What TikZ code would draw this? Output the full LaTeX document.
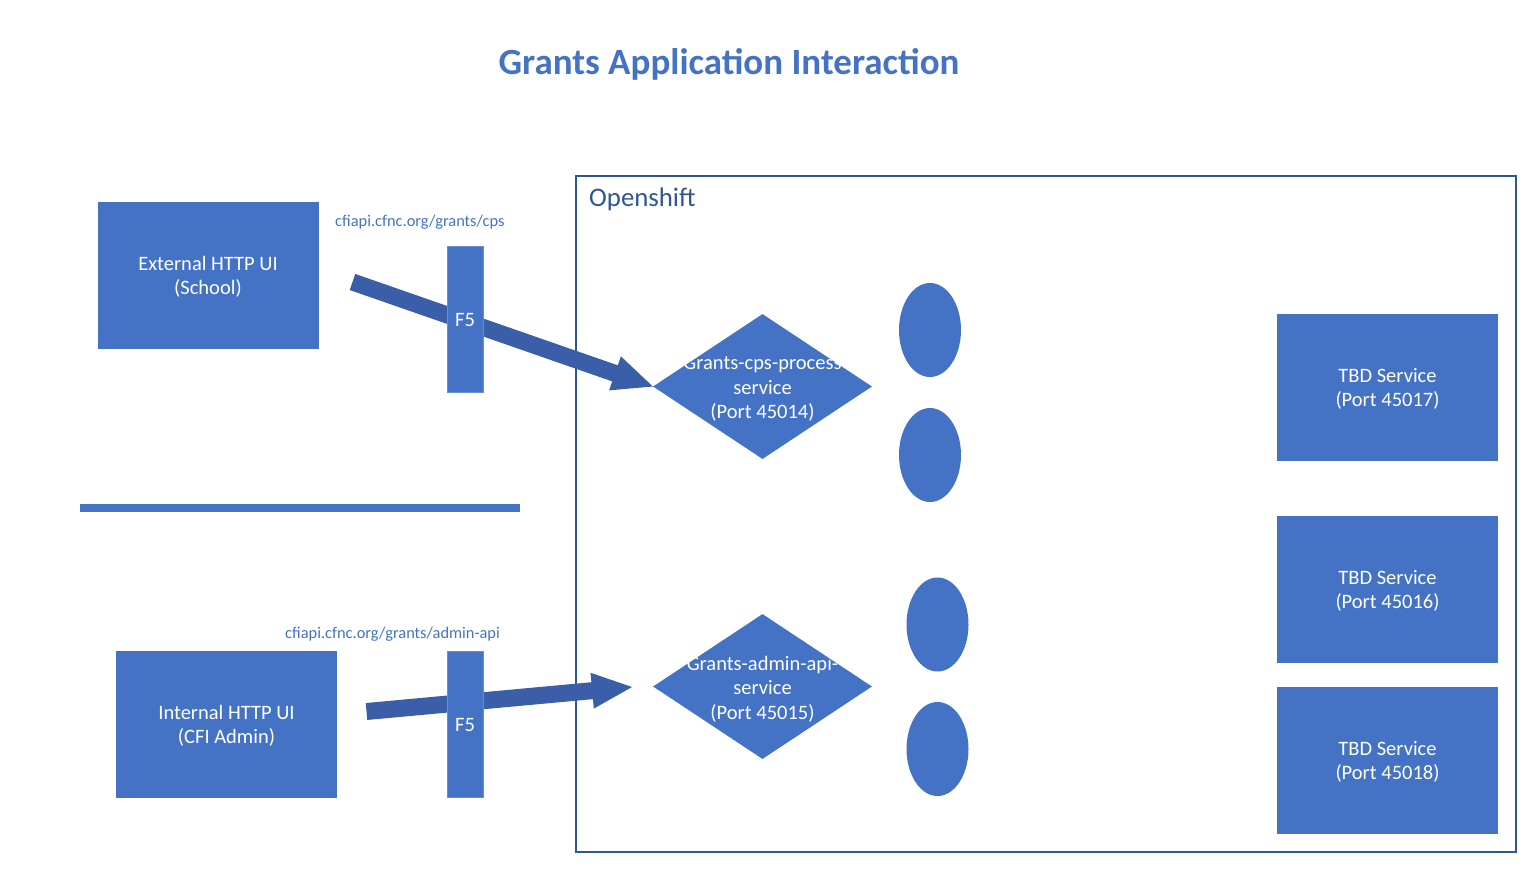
\documentclass[tikz,border=0pt]{standalone}
\usepackage{fontspec}
\setmainfont{Carlito}
\usetikzlibrary{shapes.geometric,calc}
\definecolor{blu}{HTML}{4472C4}
\definecolor{darkblu}{HTML}{2F5597}
\definecolor{arr}{HTML}{3B5EA8}
\begin{document}
\begin{tikzpicture}[x=1pt,y=-1pt,
  box/.style={rectangle, fill=blu, draw=blu, inner sep=0pt, minimum width=220pt, minimum height=146pt,
    label={[boxtext]center:#1}},
  boxtext/.style={text=white, align=center, yshift=-2pt, inner sep=0pt, font=\fontsize{20.5}{24}\selectfont},
  fbar/.style={rectangle, fill=blu, draw=blu!80!white, inner sep=0pt, minimum width=36pt, minimum height=146pt,
    label={[boxtext, yshift=1pt]center:F5}},
  dia/.style={diamond, fill=blu, inner sep=0pt, minimum width=219pt, minimum height=145pt},
  diatext/.style={text=white, align=center, font=\fontsize{20.5}{24.5}\selectfont},
  ell/.style={ellipse, fill=blu, inner sep=0pt, minimum width=62pt, minimum height=94pt},
  url/.style={text=blu, font=\fontsize{16.4}{19}\selectfont, inner sep=0pt},
  blockarrow/.style={fill=arr}
]
\useasboundingbox (0,0) rectangle (1536,876);
% title
\node[text=blu, font=\fontsize{37}{40}\selectfont\bfseries] (title) at (729,64) {Grants Application Interaction};
% openshift container
\node[draw=darkblu, line width=1.5pt, minimum width=940pt, minimum height=676pt, inner sep=0pt] (os) at (1046,514) {};
\node[text=darkblu, font=\fontsize{26.8}{30}\selectfont, anchor=west, inner sep=0pt] (oslabel) at (589,199) {Openshift};
% divider
\coordinate (divL) at (80,508);
\coordinate (divR) at (520,508);
\draw[blu, line width=8pt] (divL) -- (divR);
% left boxes
\node[box={External HTTP UI\\(School)}] (ext) at (208,275) {};
\node[box={Internal HTTP UI\\(CFI Admin)}] (int) at (226.5,724) {};
% urls
\node[url, anchor=west] (url1) at (335,222) {cfiapi.cfnc.org/grants/cps};
\node[url, anchor=west] (url2) at (285,634) {cfiapi.cfnc.org/grants/admin-api};
% diamonds
\node[dia] (d1) at (762.5,386.5) {};
\node[dia] (d2) at (762.5,686.5) {};
% ellipses
\node[ell] (e1) at (930,330) {};
\node[ell] (e2) at (930,455) {};
\node[ell] (e3) at (937.5,624.5) {};
\node[ell] (e4) at (937.5,749) {};
% TBD boxes
\node[box={TBD Service\\(Port 45017)}] (t1) at (1387.5,387) {};
\node[box={TBD Service\\(Port 45016)}] (t2) at (1387.5,589) {};
\node[box={TBD Service\\(Port 45018)}] (t3) at (1387.5,760) {};
% arrows
\coordinate (a1s) at (352.5,282);
\coordinate (a2s) at (366.5,711.5);
\coordinate (a2t) at (632,687);
\coordinate (h1) at ($(d1.west)!40pt!(a1s)$);
\coordinate (h2) at ($(a2t)!40pt!(a2s)$);
\fill[blockarrow] ($(a1s)!8.5pt!90:(d1.west)$) -- ($(h1)!8.5pt!90:(d1.west)$) -- ($(h1)!18pt!90:(d1.west)$) -- (d1.west) -- ($(h1)!18pt!-90:(d1.west)$) -- ($(h1)!8.5pt!-90:(d1.west)$) -- ($(a1s)!8.5pt!-90:(d1.west)$) -- cycle;
\fill[blockarrow] ($(a2s)!8.5pt!90:(a2t)$) -- ($(h2)!8.5pt!90:(a2t)$) -- ($(h2)!18pt!90:(a2t)$) -- (a2t) -- ($(h2)!18pt!-90:(a2t)$) -- ($(h2)!8.5pt!-90:(a2t)$) -- ($(a2s)!8.5pt!-90:(a2t)$) -- cycle;
% F5 bars
\node[fbar] (f1) at (465,319) {};
\node[fbar] (f2) at (465,724) {};
% diamond texts
\node[diatext] (d1t) at ($(d1.center)+(0,2.5)$) {Grants-cps-process\\service\\(Port 45014)};
\node[diatext] (d2t) at ($(d2.center)+(0,2.5)$) {Grants-admin-api-\\service\\(Port 45015)};
\end{tikzpicture}
\end{document}
